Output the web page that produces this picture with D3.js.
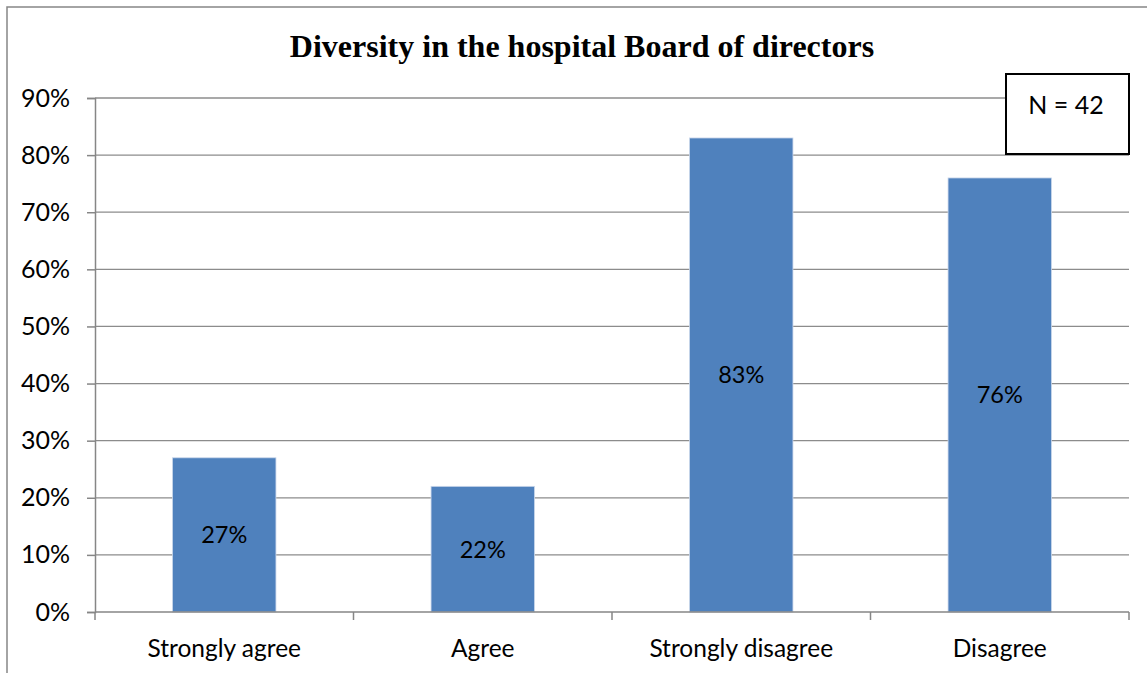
<!DOCTYPE html>
<html>
<head>
<meta charset="utf-8">
<script src="https://cdnjs.cloudflare.com/ajax/libs/d3/7.8.5/d3.min.js"></script>
<style>
  html, body { margin: 0; padding: 0; background: #fff; }
  svg { display: block; }
</style>
</head>
<body>
<script>
// Survey responses on board diversity
const categories = ["Strongly agree", "Agree", "Strongly disagree", "Disagree"];
const shares = [0.27, 0.22, 0.83, 0.76];
const yTicks = [0, 0.1, 0.2, 0.3, 0.4, 0.5, 0.6, 0.7, 0.8, 0.9];
const chartTitle = "Diversity in the hospital Board of directors";
const sampleNote = "N = 42";

const W = 1147, H = 673;
const plot = { left: 95, right: 1129, top: 98, bottom: 612 };
const uiFont = "Lato, 'Open Sans', sans-serif";

const svg = d3.select("body").append("svg")
  .attr("width", W).attr("height", H);

// chart frame
svg.append("rect")
  .attr("x", 7).attr("y", 7)
  .attr("width", W + 10).attr("height", H + 10)
  .attr("fill", "#fff").attr("stroke", "#868686").attr("stroke-width", 1.5);

const x = d3.scaleBand().domain(categories)
  .range([plot.left, plot.right]).paddingInner(0.6).paddingOuter(0.3);
const xEdges = d3.scaleLinear().domain([0, categories.length])
  .range([plot.left, plot.right]);
const y = d3.scaleLinear().domain([0, 0.9]).range([plot.bottom, plot.top]);

// horizontal gridlines
svg.append("g").selectAll("line").data(yTicks.slice(1)).join("line")
  .attr("x1", plot.left).attr("x2", plot.right)
  .attr("y1", d => y(d)).attr("y2", d => y(d))
  .attr("stroke", "#8c8c8c").attr("stroke-width", 1.3);

// y axis
const yAxis = svg.append("g")
  .attr("transform", `translate(${plot.left},0)`)
  .call(d3.axisLeft(y).tickValues(yTicks).tickFormat(d3.format(".0%"))
    .tickSize(8).tickPadding(17));
yAxis.select(".domain").attr("stroke", "#868686").attr("stroke-width", 1.5);
yAxis.selectAll(".tick line").attr("stroke", "#868686").attr("stroke-width", 1.5);
yAxis.selectAll("text").attr("font-family", uiFont).attr("font-size", 25)
  .attr("fill", "#000");

// bars
svg.append("g").selectAll("rect").data(categories).join("rect")
  .attr("x", d => x(d))
  .attr("width", x.bandwidth())
  .attr("y", (d, i) => y(shares[i]))
  .attr("height", (d, i) => y(0) - y(shares[i]))
  .attr("fill", "#4f81bd")
  .attr("stroke", "#c9d6ea").attr("stroke-width", 0.8);

// x axis baseline and category ticks
svg.append("line")
  .attr("x1", plot.left).attr("x2", plot.right)
  .attr("y1", plot.bottom).attr("y2", plot.bottom)
  .attr("stroke", "#868686").attr("stroke-width", 1.5);
svg.append("g").selectAll("line").data(d3.range(categories.length + 1)).join("line")
  .attr("x1", d => xEdges(d)).attr("x2", d => xEdges(d))
  .attr("y1", plot.bottom).attr("y2", plot.bottom + 8)
  .attr("stroke", "#868686").attr("stroke-width", 1.5);

// category labels
svg.append("g").selectAll("text").data(categories).join("text")
  .attr("x", d => x(d) + x.bandwidth() / 2)
  .attr("y", 657)
  .attr("text-anchor", "middle")
  .attr("font-family", uiFont).attr("font-size", 24.5)
  .text(d => d);

// value labels centred in each bar
svg.append("g").selectAll("text").data(categories).join("text")
  .attr("x", d => x(d) + x.bandwidth() / 2)
  .attr("y", (d, i) => (y(shares[i]) + y(0)) / 2)
  .attr("dy", "0.36em")
  .attr("text-anchor", "middle")
  .attr("font-family", uiFont).attr("font-size", 23.5)
  .text((d, i) => d3.format(".0%")(shares[i]));

// title
svg.append("text")
  .attr("x", 582).attr("y", 57)
  .attr("text-anchor", "middle")
  .attr("font-family", "'Liberation Serif', 'Times New Roman', serif")
  .attr("font-weight", "bold").attr("font-size", 32)
  .text(chartTitle);

// sample size box
svg.append("rect")
  .attr("x", 1006).attr("y", 74).attr("width", 123).attr("height", 80)
  .attr("fill", "#fff").attr("stroke", "#000").attr("stroke-width", 2);
svg.append("text")
  .attr("x", 1066).attr("y", 114)
  .attr("text-anchor", "middle")
  .attr("font-family", uiFont).attr("font-size", 25)
  .text(sampleNote);
</script>
</body>
</html>
